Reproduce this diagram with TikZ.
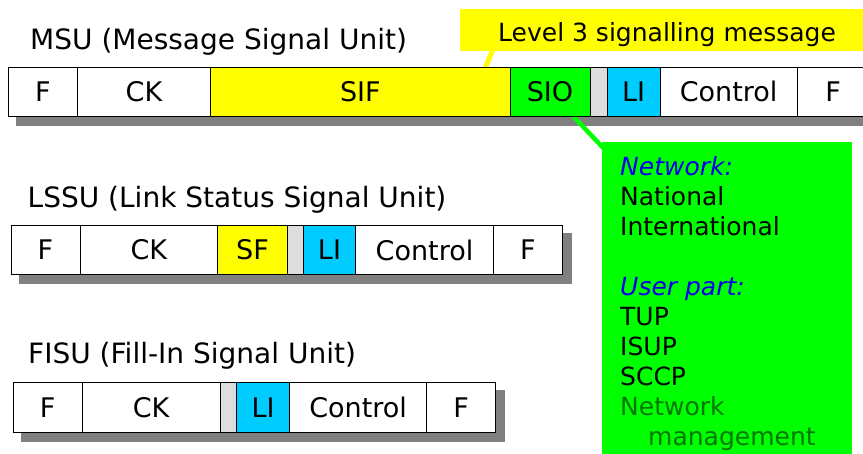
\documentclass[tikz,border=0pt]{standalone}
\usepackage{fontspec}
\setmainfont{DejaVu Sans}
\usetikzlibrary{backgrounds}
\definecolor{fyellow}{RGB}{255,255,0}
\definecolor{fgreen}{RGB}{0,255,0}
\definecolor{fcyan}{RGB}{0,204,255}
\definecolor{fgray}{RGB}{221,221,221}
\definecolor{shadowc}{RGB}{128,128,128}
\definecolor{lblue}{RGB}{0,0,235}
\definecolor{dgreen}{RGB}{0,120,0}
\tikzset{
  fld/.style={draw=black, line width=1pt, fill=white, inner sep=0pt, minimum height=#1, font=\fontsize{27}{32}\selectfont},
  fld/.default=48.7pt,
  shadowbox/.style={fill=shadowc},
  title/.style={anchor=base west, inner sep=0pt, font=\fontsize{28}{33}\selectfont},
  callbox/.style={fill=fyellow, inner sep=0pt, minimum width=410pt, minimum height=41.4pt},
  netbox/.style={fill=fgreen, inner sep=0pt, anchor=north west, minimum width=250.3pt, minimum height=330pt},
  greenlink/.style={draw=fgreen, line width=4.5pt},
  yellowlink/.style={draw=fyellow, line width=5pt},
}
\begin{document}
\begin{tikzpicture}[x=1pt, y=-1pt]
\clip (0,0) rectangle (863,453);

% titles
\node[title] (tmsu) at (30,49.3) {MSU (Message Signal Unit)};
\node[title] (tlssu) at (27.5,207) {LSSU (Link Status Signal Unit)};
\node[title] (tfisu) at (28,363.5) {FISU (Fill-In Signal Unit)};

% MSU
\node[fld] (mF1) at (42.8,91.65) [minimum width=69pt] {F};
\node[fld] (mCK) at (144,91.65) [minimum width=133.4pt] {CK};
\node[fld, fill=fyellow] (mSIF) at (360.35,91.65) [minimum width=299.3pt] {SIF};
\node[fld, fill=fgreen] (mSIO) at (550,91.65) [minimum width=80pt] {SIO};
\node[fld, fill=fgray] (mG) at (598.65,91.65) [minimum width=17.3pt] {};
\node[fld, fill=fcyan] (mLI) at (633.65,91.65) [minimum width=52.7pt] {LI};
\node[fld] (mCtl) at (728.65,91.65) [minimum width=137.3pt] {Control};
\node[fld] (mF2) at (833.15,91.65) [minimum width=71.7pt] {F};

% LSSU
\node[fld=48.6pt] (lF1) at (45.5,250) [minimum width=69pt] {F};
\node[fld=48.6pt] (lCK) at (148.85,250) [minimum width=137.7pt] {CK};
\node[fld=48.6pt, fill=fyellow] (lSF) at (252.5,250) [minimum width=69.6pt] {SF};
\node[fld=48.6pt, fill=fgray] (lG) at (295.3,250) [minimum width=16pt] {};
\node[fld=48.6pt, fill=fcyan] (lLI) at (329.5,250) [minimum width=52.4pt] {LI};
\node[fld=48.6pt] (lCtl) at (424.5,250) [minimum width=137.6pt] {Control};
\node[fld=48.6pt] (lF2) at (528,250) [minimum width=69.4pt] {F};

% FISU
\node[fld=49.8pt] (fF1) at (47.65,407.2) [minimum width=68.7pt] {F};
\node[fld=49.8pt] (fCK) at (151.15,407.2) [minimum width=138.3pt] {CK};
\node[fld=49.8pt, fill=fgray] (fG) at (228.5,407.2) [minimum width=16.4pt] {};
\node[fld=49.8pt, fill=fcyan] (fLI) at (263.1,407.2) [minimum width=52.8pt] {LI};
\node[fld=49.8pt] (fCtl) at (358.1,407.2) [minimum width=137.2pt] {Control};
\node[fld=49.8pt] (fF2) at (461.2,407.2) [minimum width=69pt] {F};

% callout
\node[callbox] (callout) at (665,30) {};
\node[anchor=base west, inner sep=0pt, font=\fontsize{25}{30}\selectfont] (calltext) at (498,41.5) {Level 3 signalling message};

% green info box
\node[netbox] (netbox) at (601.7,141.7) {};
\node[anchor=north west, inner sep=0pt, align=left, font=\fontsize{25}{30}\selectfont] (nettext) at (620,156) {%
{\color{lblue}\itshape Network:}\\
National\\
International\\
\mbox{}\\
{\color{lblue}\itshape User part:}\\
TUP\\
ISUP\\
SCCP\\
{\color{dgreen}Network}\\
{\color{dgreen}\hspace*{28pt}management}};

\begin{pgfonlayer}{background}
\fill[white] (0,0) rectangle (863,453);
\fill[shadowbox] ([shift={(8,9)}]mF1.north west) rectangle ([shift={(9,9.5)}]mF2.south east);
\fill[shadowbox] ([shift={(8,8)}]lF1.north west) rectangle ([shift={(9,9.4)}]lF2.south east);
\fill[shadowbox] ([shift={(8,8)}]fF1.north west) rectangle ([shift={(8.6,9.5)}]fF2.south east);
\draw[greenlink] (mSIO.center) -- ([shift={(6.3,11.3)}]netbox.north west);
\draw[yellowlink] ([shift={(34.7,-5)}]callout.south west) -- ([shift={(-27.2,5.7)}]mSIF.north east);
\end{pgfonlayer}
\end{tikzpicture}
\end{document}
